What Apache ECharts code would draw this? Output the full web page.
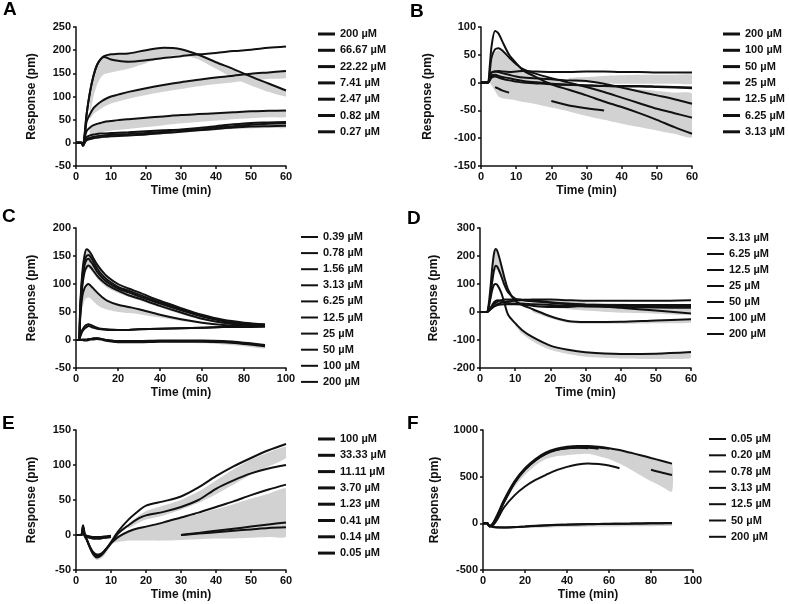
<!DOCTYPE html>
<html>
<head>
<meta charset="utf-8">
<script src="https://cdn.jsdelivr.net/npm/echarts@6/dist/echarts.min.js"></script>
<style>
  html, body { margin: 0; padding: 0; background: #fff; }
  #kinetics { width: 789px; height: 604px; }
</style>
</head>
<body>
<div id="kinetics"></div>
<script>
// time points (min) and responses (pm)
const tA = [0, 1.5, 2, 2.5, 3, 4, 5, 6, 7, 8, 10, 12, 15, 20, 25, 30, 35, 40, 45, 50, 55, 60]
const namesA = ['200 µM', '66.67 µM', '22.22 µM', '7.41 µM', '2.47 µM', '0.82 µM', '0.27 µM']
const curvesA = [
  [0, 0, -3, 20, 60, 110, 145, 168, 180, 187, 191, 192, 193, 200, 205, 202, 190, 174, 159, 143, 128, 113],
  [0, 0, -3, 20, 60, 110, 145, 168, 180, 185, 180, 177, 175, 178, 183, 187, 191, 194, 198, 201, 205, 208],
  [0, 0, -3, 15, 45, 62, 75, 82, 88, 93, 100, 104, 110, 118, 125, 131, 136, 141, 145, 149, 152, 155],
  [0, 0, -5, 10, 25, 33, 38, 41, 43, 45, 47, 49, 51, 54, 57, 60, 62, 64, 66, 68, 69, 70],
  [0, 0, -5, 5, 12, 16, 18, 19, 20, 20, 21, 22, 23, 25, 27, 29, 32, 36, 40, 43, 44, 45],
  [0, 0, -6, 2, 8, 11, 13, 14, 15, 16, 17, 18, 19, 21, 24, 27, 29, 33, 36, 39, 41, 42],
  [0, 0, -7, 0, 5, 8, 10, 11, 12, 13, 14, 15, 16, 18, 21, 24, 27, 30, 33, 35, 36, 37]
]
const bandsA = [
  { lo: [null, null, null, null, null, 60, 100, 125, 140, 148, 152, 155, 160, 172, 184, 190, 180, 160, 140, 124, 110, 100],
    hi: [null, null, null, null, null, 110, 145, 168, 180, 187, 191, 192, 193, 200, 205, 202, 190, 174, 159, 143, 128, 113] },
  { lo: [null, null, null, null, null, 52, 62, 68, 73, 78, 85, 89, 95, 103, 110, 116, 122, 127, 131, 135, 138, 140],
    hi: [null, null, null, null, null, 62, 75, 82, 88, 93, 100, 104, 110, 118, 125, 131, 136, 141, 145, 149, 152, 155] },
  { lo: [null, null, null, null, null, 14, 18, 20, 22, 24, 26, 28, 30, 34, 38, 42, 45, 48, 51, 53, 55, 56],
    hi: [null, null, null, null, null, 33, 38, 41, 43, 45, 47, 49, 51, 54, 57, 60, 62, 64, 66, 68, 69, 70] },
  { lo: [null, null, null, null, null, null, null, null, null, 11, 12, 13, 14, 16, 19, 22, 25, 28, 30, 31, 32, 32],
    hi: [null, null, null, null, null, null, null, null, null, 20, 21, 22, 23, 25, 27, 29, 32, 36, 40, 43, 44, 45] }
]

const tB = [0, 1.5, 2, 2.5, 3, 4, 5, 6, 8, 10, 12, 15, 20, 25, 30, 35, 40, 45, 50, 55, 60]
const namesB = ['200 µM', '100 µM', '50 µM', '25 µM', '12.5 µM', '6.25 µM', '3.13 µM']
const curvesB = [
  [0, 0, 0, 30, 65, 93, 88, 75, 50, 35, 22, 12, -3, -13, -23, -34, -44, -55, -67, -80, -92],
  [0, 0, 0, 20, 45, 60, 62, 58, 45, 33, 24, 17, 8, 0, -8, -17, -27, -37, -47, -55, -63],
  [0, 0, 0, 10, 18, 20, 21, 20, 19, 20, 21, 20, 19, 19, 20, 20, 19, 19, 18, 18, 18],
  [0, 0, 0, 8, 18, 20, 19, 17, 14, 11, 9, 8, 6, 4, 3, -2, -9, -16, -23, -30, -38],
  [0, 0, 0, 5, 12, 14, 12, 10, 8, 5, 3, 1, -2, -4, -5, -6, -6, -6, -7, -8, -9],
  [null, null, null, null, null, -8, -11, -14, -18, null, null, null, -33, -41, -46, -50, null, null, null, null, null],
  [0, 0, 0, 4, 9, 11, 9, 7, 4, 2, 0, -1, -3, -4, -5, -6, -7, -7, -8, -9, -10]
]
const bandsB = [
  { lo: [null, null, null, 0, -5, -15, -25, -28, -30, -32, -35, -38, -45, -52, -60, -67, -74, -80, -86, -92, -98],
    hi: [null, null, null, 20, 40, 55, 58, 55, 42, 30, 22, 14, 5, 0, -5, -8, -10, -12, -15, -18, -20] },
  { lo: [null, null, null, null, null, null, null, null, null, null, null, null, null, 2, 0, -1, -2, -2, -2, -2, -2],
    hi: [null, null, null, null, null, null, null, null, null, null, null, null, null, 8, 10, 12, 13, 14, 14, 14, 14] }
]

const tC = [0, 1, 1.5, 2, 3, 4, 5, 6, 7, 8, 10, 12, 15, 20, 25, 30, 40, 50, 60, 70, 80, 90]
const namesC = ['0.39 µM', '0.78 µM', '1.56 µM', '3.13 µM', '6.25 µM', '12.5 µM', '25 µM', '50 µM', '100 µM', '200 µM']
const curvesC = [
  [0, 0, 0, 0, 1, 1, 1, 2, 2, 3, 3, 2, 0, -2, -2, -2, -1, -1, -1, -2, -5, -9],
  [0, 0, 0, 0, 0, -1, -1, 0, 1, 1, 2, 1, -2, -4, -4, -4, -3, -3, -3, -4, -7, -11],
  [0, 0, 0, 0, 0, 0, 0, 1, 2, 2, 3, 2, -1, -3, -3, -3, -2, -2, -2, -3, -6, -10],
  [0, 0, 0, 6, 15, 20, 23, 25, 24, 22, 20, 19, 18, 18, 18, 19, 20, 21, 22, 23, 24, 25],
  [0, 0, 0, 8, 18, 24, 27, 28, 27, 25, 22, 20, 19, 18, 18, 19, 20, 21, 22, 23, 23, 24],
  [0, 0, 0, 40, 78, 92, 98, 100, 97, 93, 85, 78, 70, 63, 59, 55, 45, 37, 31, 27, 25, 24],
  [0, 0, 0, 45, 95, 120, 130, 133, 130, 125, 115, 107, 98, 88, 80, 74, 61, 49, 38, 31, 27, 25],
  [0, 0, 0, 50, 105, 132, 143, 145, 140, 135, 122, 113, 103, 92, 85, 78, 65, 53, 42, 34, 29, 26],
  [0, 0, 0, 55, 112, 140, 150, 152, 148, 142, 128, 118, 107, 95, 88, 81, 67, 55, 43, 35, 30, 27],
  [0, 0, 0, 60, 120, 150, 162, 160, 155, 148, 135, 125, 113, 100, 92, 85, 70, 57, 45, 36, 31, 28]
]
const bandsC = [
  { lo: [null, null, null, null, 90, 115, 125, 128, 125, 120, 110, 102, 93, 84, 77, 71, 58, 46, 36, 29, 26, 24],
    hi: [null, null, null, null, 120, 150, 162, 160, 155, 148, 135, 125, 113, 100, 92, 85, 70, 57, 45, 36, 31, 28] },
  { lo: [null, null, null, null, 55, 70, 75, 76, 74, 70, 63, 58, 54, 50, 48, 46, 40, 34, 30, 27, null, null],
    hi: [null, null, null, null, 78, 92, 98, 100, 97, 93, 85, 78, 70, 63, 59, 55, 45, 37, 31, 27, null, null] },
  { lo: [null, null, null, null, null, null, null, null, null, null, null, null, null, null, null, null, -4, -5, -6, -8, -11, -15],
    hi: [null, null, null, null, null, null, null, null, null, null, null, null, null, null, null, null, -2, -2, -2, -3, -6, -10] }
]

const tD = [0, 1.5, 2, 2.5, 3, 3.5, 4, 4.5, 5, 6, 7, 8, 10, 12, 15, 20, 25, 30, 40, 50, 60]
const namesD = ['3.13 µM', '6.25 µM', '12.5 µM', '25 µM', '50 µM', '100 µM', '200 µM']
const curvesD = [
  [0, 0, 0, 5, 12, 20, 28, 33, 37, 42, 45, 45, 45, 44, 42, 35, 30, 27, 23, 20, 18],
  [0, 0, 0, 5, 10, 15, 20, 25, 28, 33, 36, 38, 40, 43, 45, 45, 42, 40, 40, 40, 42],
  [0, 0, 0, 5, 10, 15, 20, 22, 25, 27, 28, 28, 28, 27, 22, 18, 18, 22, 25, 25, 25],
  [0, 0, 0, 5, 15, 25, 35, 40, 42, 40, 35, 32, 30, 30, 28, 25, 22, 20, 18, 16, 15],
  [0, 0, 0, 20, 60, 110, 150, 165, 160, 130, 95, 70, 48, 42, 38, 33, 28, 25, 15, 5, -5],
  [0, 0, 0, 30, 90, 160, 210, 225, 215, 170, 120, 80, 40, 25, 10, -15, -32, -36, -35, -30, -26],
  [0, 0, 0, 20, 50, 80, 97, 100, 95, 70, 30, -10, -40, -65, -90, -120, -135, -144, -150, -149, -143]
]
const bandsD = [
  { lo: [null, null, null, 15, 50, 95, 130, 150, 150, 125, 90, 65, 40, 38, null, null, null, null, null, null, null],
    hi: [null, null, null, 30, 90, 160, 210, 225, 215, 170, 120, 80, 45, 42, null, null, null, null, null, null, null] },
  { lo: [null, null, null, null, null, null, null, null, null, null, null, null, -48, -78, -105, -135, -150, -160, -166, -168, -165],
    hi: [null, null, null, null, null, null, null, null, null, null, null, null, -40, -65, -90, -120, -135, -144, -150, -149, -143] },
  { lo: [null, null, null, null, null, null, null, null, null, null, null, null, null, null, 0, -22, -38, -42, -42, -40, -38],
    hi: [null, null, null, null, null, null, null, null, null, null, null, null, null, null, 10, -15, -32, -36, -35, -30, -26] },
  { lo: [null, null, null, null, null, null, null, null, null, null, null, null, null, null, 25, 15, 10, 5, -3, -6, -8],
    hi: [null, null, null, null, null, null, null, null, null, null, null, null, null, null, 45, 42, 38, 35, 30, 26, 22] }
]

const tE = [0, 1, 1.5, 2, 2.5, 3, 4, 5, 6, 7, 8, 10, 12, 15, 18, 20, 25, 30, 35, 40, 45, 50, 55, 60]
const namesE = ['100 µM', '33.33 µM', '11.11 µM', '3.70 µM', '1.23 µM', '0.41 µM', '0.14 µM', '0.05 µM']
const curvesE = [
  [0, 0, 0, 14, 2, -5, -18, -28, -32, -30, -25, -10, 5, 22, 35, 42, 48, 55, 68, 84, 98, 110, 121, 130],
  [0, 0, 0, 12, 0, -6, -18, -27, -30, -28, -24, -12, 2, 14, 24, 28, 33, 40, 50, 66, 78, 88, 95, 100],
  [0, 0, 0, 10, -2, -6, -17, -25, -28, -27, -23, -12, -3, 5, 10, 12, 18, 25, 32, 40, 48, 57, 65, 72],
  [0, 0, 0, 5, 0, -2, -4, -5, -5, -5, -4, -3, null, null, null, null, null, 0, 3, 6, 9, 12, 15, 18],
  [0, 0, 0, 4, 0, -2, -4, -5, -5, -5, -4, -3, null, null, null, null, null, 0, 2, 4, 6, 8, 10, 11],
  [0, 0, 0, 3, 0, -1, -3, -4, -4, -4, -3, -2, null, null, null, null, null, null, null, null, null, null, null, null],
  [0, 0, 0, 2, -1, -2, -3, -4, -4, -3, -3, -2, null, null, null, null, null, null, null, null, null, null, null, null],
  [0, 0, 0, 2, 0, -1, -2, -3, -3, -3, -2, -1, null, null, null, null, null, null, null, null, null, null, null, null]
]
const bandsE = [
  { lo: [null, null, null, null, null, null, -22, -32, -36, -34, -30, -15, null, null, null, null, null, null, null, null, null, null, null, null],
    hi: [null, null, null, null, null, null, -16, -26, -30, -28, -24, -10, null, null, null, null, null, null, null, null, null, null, null, null] },
  { lo: [null, null, null, null, null, null, null, null, null, null, null, -12, -10, -8, -8, -8, -8, -7, -6, -5, -5, -4, -3, -2],
    hi: [null, null, null, null, null, null, null, null, null, null, null, -10, -2, 5, 10, 12, 18, 24, 30, 37, 44, 52, 59, 66] },
  { lo: [null, null, null, null, null, null, null, null, null, null, null, null, null, 10, 18, 22, 28, 36, 46, 58, 72, 86, 98, 110],
    hi: [null, null, null, null, null, null, null, null, null, null, null, null, null, 16, 28, 34, 42, 50, 62, 78, 94, 108, 118, 126] }
]

const tF = [0, 2, 3, 4, 5, 7, 10, 15, 20, 25, 30, 35, 40, 45, 50, 55, 60, 65, 70, 75, 80, 85, 90]
const namesF = ['0.05 µM', '0.20 µM', '0.78 µM', '3.13 µM', '12.5 µM', '50 µM', '200 µM']
const curvesF = [
  [0, 0, -30, -35, -40, -45, -45, -42, -35, -28, -22, -18, -15, -12, -10, -8, -6, -5, -4, -2, 0, 1, 2],
  [0, 0, -30, -33, -38, -43, -44, -40, -33, -26, -20, -16, -13, -10, -8, -6, -5, -4, -3, -1, 1, 2, 3],
  [0, 0, -30, -25, -15, 50, 170, 300, 395, 465, 520, 570, 605, 630, 642, 635, 620, 590, null, null, null, null, null],
  [0, 0, -30, -22, 0, 80, 225, 430, 575, 675, 745, 785, 805, 812, 810, 800, null, null, null, null, null, null, null],
  [0, 0, -30, -22, 0, 85, 230, 435, 578, 678, 748, 790, 810, 818, 818, 812, 798, null, null, null, null, null, null],
  [0, 0, -30, -20, 5, 90, 235, 440, 580, 680, 750, 790, 805, 810, 805, null, null, null, null, null, 575, 545, 518],
  [0, 0, -30, -20, 10, 100, 250, 450, 590, 690, 760, 800, 820, 828, 828, 820, 805, 785, 758, 730, 700, 670, 640]
]
const bandsF = [
  { lo: [null, null, null, null, null, null, 200, 390, 520, 620, 690, 720, 730, 740, 745, 720, 690, 640, 580, 515, 450, 395, 340],
    hi: [null, null, null, null, null, null, 245, 445, 585, 688, 758, 798, 818, 826, 826, 818, 803, 783, 756, 728, 698, 668, 638] },
  { lo: [null, null, null, null, null, null, null, -50, -50, -48, -45, -42, -40, -38, -36, -35, -34, -33, -32, -32, -30, -28, -25],
    hi: [null, null, null, null, null, null, null, -42, -35, -28, -22, -18, -15, -12, -10, -8, -6, -5, -4, -2, 0, 1, 2] }
]

const FONT = '"Liberation Sans", Arial, sans-serif'
const INK = '#111'
const BAND = '#d2d2d2'

// layout of each panel: grid [left, top, width, height], legend [left, top, icon height, gap]
const panels = [
  { tag: 'A', tagAt: [3, 0], t: tA, names: namesA, curves: curvesA, bands: bandsA, x: [0, 60, 10], y: [-50, 250, 50], grid: [76, 27, 210, 139], legend: [318, 27, 3, 2.3], yGap: 38 },
  { tag: 'B', tagAt: [410, 2], t: tB, names: namesB, curves: curvesB, bands: bandsB, x: [0, 60, 10], y: [-150, 100, 50], grid: [481, 27, 211, 139], legend: [723, 27, 3, 2.3], yGap: 47 },
  { tag: 'C', tagAt: [2, 207], t: tC, names: namesC, curves: curvesC, bands: bandsC, x: [0, 100, 20], y: [-50, 200, 50], grid: [76, 228, 210, 140], legend: [301, 230, 2, 2.1], yGap: 38 },
  { tag: 'D', tagAt: [407, 209], t: tD, names: namesD, curves: curvesD, bands: bandsD, x: [0, 60, 10], y: [-200, 300, 100], grid: [480, 228, 211, 140], legend: [707, 231, 2, 2], yGap: 40 },
  { tag: 'E', tagAt: [2, 414], t: tE, names: namesE, curves: curvesE, bands: bandsE, x: [0, 60, 10], y: [-50, 150, 50], grid: [76, 430, 210, 140], legend: [318, 432, 3, 2.3], yGap: 38 },
  { tag: 'F', tagAt: [407, 414], t: tF, names: namesF, curves: curvesF, bands: bandsF, x: [0, 100, 20], y: [-500, 1000, 500], grid: [483, 430, 210, 140], legend: [709, 432, 2, 2.3], yGap: 42 }
]

const tickText = { fontSize: 11, fontWeight: 'bold', color: INK, fontFamily: FONT }
const nameText = { fontSize: 12, fontWeight: 'bold', color: INK, fontFamily: FONT }
const axisLine = { show: true, onZero: false, lineStyle: { color: INK, width: 1.5 } }
const axisTick = { show: true, length: 3, lineStyle: { color: INK, width: 1.5 } }

// grey replicate spread: one polygon per unbroken run of lo/hi values
function bandShapes (t, b, api) {
  const shapes = []
  let run = []
  const flush = () => {
    if (run.length > 1) {
      const upper = run.map(i => api.coord([t[i], b.hi[i]]))
      const lower = run.slice().reverse().map(i => api.coord([t[i], b.lo[i]]))
      shapes.push({ type: 'polygon', shape: { points: upper.concat(lower), smooth: 0.2 }, style: { fill: BAND } })
    }
    run = []
  }
  t.forEach((x, i) => {
    if (b.lo[i] == null || b.hi[i] == null) flush()
    else run.push(i)
  })
  flush()
  return shapes
}

const series = []
panels.forEach((p, pi) => {
  p.bands.forEach(b => {
    series.push({
      type: 'custom', xAxisIndex: pi, yAxisIndex: pi, silent: true, z: 1, clip: true,
      data: p.t.map((x, i) => [x, b.lo[i] == null ? 0 : b.lo[i], b.hi[i] == null ? 0 : b.hi[i]]),
      encode: { x: 0, y: [1, 2] },
      renderItem: (params, api) => params.dataIndex === 0
        ? { type: 'group', children: bandShapes(p.t, b, api) }
        : null
    })
  })
  p.curves.forEach((c, ci) => {
    series.push({
      type: 'line', name: p.names[ci], xAxisIndex: pi, yAxisIndex: pi,
      data: p.t.map((x, i) => [x, c[i]]),
      symbol: 'none', smooth: 0.3, z: 3,
      lineStyle: { color: INK, width: 2 }, itemStyle: { color: INK }
    })
  })
})

const chart = echarts.init(document.getElementById('kinetics'))
chart.setOption({
  animation: false,
  backgroundColor: '#fff',
  title: panels.map(p => ({
    text: p.tag, left: p.tagAt[0], top: p.tagAt[1], padding: 0,
    textStyle: { fontSize: 19, fontWeight: 'bold', color: '#000', fontFamily: FONT }
  })),
  grid: panels.map(p => ({
    left: p.grid[0], top: p.grid[1], width: p.grid[2], height: p.grid[3], outerBoundsMode: 'none'
  })),
  xAxis: panels.map((p, pi) => ({
    type: 'value', gridIndex: pi, min: p.x[0], max: p.x[1], interval: p.x[2],
    axisLine, axisTick, splitLine: { show: false },
    axisLabel: { ...tickText, margin: 5, showMinLabel: true, showMaxLabel: true, formatter: v => String(v) },
    name: 'Time (min)', nameLocation: 'middle', nameGap: 19, nameTextStyle: nameText
  })),
  yAxis: panels.map((p, pi) => ({
    type: 'value', gridIndex: pi, min: p.y[0], max: p.y[1], interval: p.y[2],
    axisLine, axisTick, splitLine: { show: false },
    axisLabel: { ...tickText, margin: 5, showMinLabel: true, showMaxLabel: true, formatter: v => String(v) },
    name: 'Response (pm)', nameLocation: 'middle', nameGap: p.yGap, nameTextStyle: nameText
  })),
  legend: panels.map(p => ({
    orient: 'vertical', left: p.legend[0], top: p.legend[1], padding: 0,
    icon: 'rect', itemWidth: 17, itemHeight: p.legend[2], itemGap: p.legend[3],
    selectedMode: false, data: p.names,
    itemStyle: { color: INK, borderWidth: 0 },
    textStyle: { fontSize: 11, fontWeight: 'bold', color: INK, fontFamily: FONT, lineHeight: 14 }
  })),
  series
})
</script>
</body>
</html>
